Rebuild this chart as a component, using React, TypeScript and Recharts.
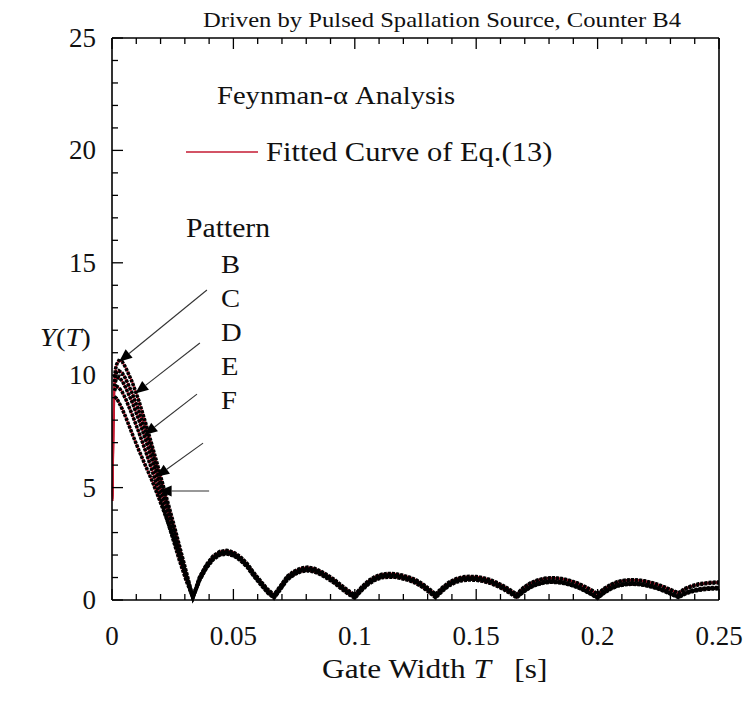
import React from 'react';
import { LineChart, Line, XAxis, YAxis, ReferenceLine } from 'recharts';

// Gate width T [s]
const GATE_WIDTH = [
  0.0003, 0.0006,
  0.001, 0.0015, 0.002, 0.0028, 0.0042, 0.0056, 0.0083, 0.0111, 0.0139, 0.0167, 0.0194, 0.0222, 0.025, 0.0278, 0.0306, 0.0333,
  0.0361, 0.0389, 0.0417, 0.0444, 0.0472, 0.05, 0.0528, 0.0556, 0.0583, 0.0611, 0.0639, 0.0667,
  0.0694, 0.0722, 0.075, 0.0778, 0.0806, 0.0833, 0.0861, 0.0889, 0.0917, 0.0944, 0.0972, 0.1,
  0.1028, 0.1056, 0.1083, 0.1111, 0.1139, 0.1167, 0.1194, 0.1222, 0.125, 0.1278, 0.1306, 0.1333,
  0.1361, 0.1389, 0.1417, 0.1444, 0.1472, 0.15, 0.1528, 0.1556, 0.1583, 0.1611, 0.1639, 0.1667,
  0.1694, 0.1722, 0.175, 0.1778, 0.1806, 0.1833, 0.1861, 0.1889, 0.1917, 0.1944, 0.1972, 0.2,
  0.2028, 0.2056, 0.2083, 0.2111, 0.2139, 0.2167, 0.2194, 0.2222, 0.225, 0.2278, 0.2306, 0.2333,
  0.2361, 0.2389, 0.2417, 0.2444, 0.2472, 0.25,
];

// Measured Y(T) per pattern
const PATTERN_B = [null, null,
  9.9, 10.3, 10.5, 10.65, 10.6, 10.35, 9.7, 8.85, 7.85, 6.8, 5.75, 4.65, 3.55, 2.4, 1.25, 0.12,
  1.03, 1.58, 1.96, 2.16, 2.21, 2.13, 1.93, 1.63, 1.23, 0.86, 0.5, 0.23,
  0.63, 1.06, 1.28, 1.42, 1.46, 1.41, 1.28, 1.1, 0.9, 0.66, 0.43, 0.23,
  0.58, 0.86, 1.04, 1.15, 1.18, 1.17, 1.11, 1.03, 0.91, 0.73, 0.5, 0.26,
  0.56, 0.8, 0.95, 1.03, 1.05, 1.04, 0.99, 0.91, 0.79, 0.64, 0.46, 0.26,
  0.55, 0.75, 0.88, 0.96, 0.99, 0.98, 0.94, 0.86, 0.76, 0.62, 0.46, 0.28,
  0.52, 0.7, 0.82, 0.88, 0.9, 0.89, 0.85, 0.78, 0.69, 0.57, 0.44, 0.32,
  0.52, 0.64, 0.72, 0.76, 0.79, 0.8];
const PATTERN_C = [null, null,
  9.7, 10.0, 10.15, 10.2, 10.1, 9.85, 9.2, 8.4, 7.5, 6.5, 5.45, 4.4, 3.3, 2.2, 1.1, 0.12,
  0.99, 1.54, 1.92, 2.12, 2.17, 2.09, 1.89, 1.59, 1.19, 0.82, 0.46, 0.19,
  0.59, 1.02, 1.24, 1.38, 1.42, 1.37, 1.24, 1.06, 0.86, 0.62, 0.39, 0.19,
  0.54, 0.82, 1.0, 1.11, 1.14, 1.13, 1.07, 0.99, 0.87, 0.69, 0.46, 0.22,
  0.52, 0.76, 0.91, 0.99, 1.01, 1.0, 0.95, 0.87, 0.75, 0.6, 0.42, 0.22,
  0.52, 0.72, 0.85, 0.93, 0.96, 0.95, 0.91, 0.83, 0.73, 0.59, 0.43, 0.25,
  0.49, 0.67, 0.79, 0.85, 0.87, 0.86, 0.82, 0.75, 0.66, 0.54, 0.41, 0.29,
  0.48, 0.6, 0.68, 0.72, 0.75, 0.76];
const PATTERN_D = [null, null,
  9.5, 9.75, 9.85, 9.9, 9.75, 9.45, 8.8, 8.0, 7.1, 6.15, 5.15, 4.1, 3.05, 2.0, 1.0, 0.12,
  0.95, 1.5, 1.88, 2.08, 2.13, 2.05, 1.85, 1.55, 1.15, 0.78, 0.42, 0.15,
  0.55, 0.98, 1.2, 1.34, 1.38, 1.33, 1.2, 1.02, 0.82, 0.58, 0.35, 0.15,
  0.5, 0.78, 0.96, 1.07, 1.1, 1.09, 1.03, 0.95, 0.83, 0.65, 0.42, 0.18,
  0.48, 0.72, 0.87, 0.95, 0.97, 0.96, 0.91, 0.83, 0.71, 0.56, 0.38, 0.16,
  0.4, 0.6, 0.73, 0.81, 0.84, 0.83, 0.79, 0.71, 0.61, 0.47, 0.31, 0.13,
  0.37, 0.55, 0.67, 0.73, 0.75, 0.74, 0.7, 0.63, 0.54, 0.42, 0.29, 0.15,
  0.33, 0.43, 0.49, 0.53, 0.55, 0.56];
const PATTERN_E = [null, null,
  9.3, 9.45, 9.5, 9.45, 9.25, 8.95, 8.25, 7.45, 6.6, 5.7, 4.75, 3.75, 2.75, 1.75, 0.85, 0.11,
  0.91, 1.46, 1.84, 2.04, 2.09, 2.01, 1.81, 1.51, 1.11, 0.74, 0.38, 0.11,
  0.51, 0.94, 1.16, 1.3, 1.34, 1.29, 1.16, 0.98, 0.78, 0.54, 0.31, 0.11,
  0.46, 0.74, 0.92, 1.03, 1.06, 1.05, 0.99, 0.91, 0.79, 0.61, 0.38, 0.14,
  0.44, 0.68, 0.83, 0.91, 0.93, 0.92, 0.87, 0.79, 0.67, 0.52, 0.34, 0.14,
  0.37, 0.57, 0.7, 0.78, 0.81, 0.8, 0.76, 0.68, 0.58, 0.44, 0.28, 0.1,
  0.34, 0.52, 0.64, 0.7, 0.72, 0.71, 0.67, 0.6, 0.51, 0.39, 0.26, 0.13,
  0.3, 0.4, 0.46, 0.5, 0.52, 0.53];
const PATTERN_F = [null, null,
  8.95, 9.0, 8.95, 8.8, 8.5, 8.15, 7.4, 6.65, 5.95, 5.25, 4.5, 3.7, 2.85, 1.97, 1.05, 0.1,
  0.87, 1.42, 1.8, 2.0, 2.05, 1.97, 1.77, 1.47, 1.07, 0.7, 0.34, 0.08,
  0.47, 0.9, 1.12, 1.26, 1.3, 1.25, 1.12, 0.94, 0.74, 0.5, 0.27, 0.08,
  0.42, 0.7, 0.88, 0.99, 1.02, 1.01, 0.95, 0.87, 0.75, 0.57, 0.34, 0.1,
  0.4, 0.64, 0.79, 0.87, 0.89, 0.88, 0.83, 0.75, 0.63, 0.48, 0.3, 0.1,
  0.35, 0.55, 0.68, 0.76, 0.79, 0.78, 0.74, 0.66, 0.56, 0.42, 0.26, 0.08,
  0.32, 0.5, 0.62, 0.68, 0.7, 0.69, 0.65, 0.58, 0.49, 0.37, 0.24, 0.11,
  0.27, 0.37, 0.43, 0.47, 0.49, 0.5];

// Fitted curve (Eq.13): its start below the first measured gate width
const FIT_HEAD_B = [4.8, 8.0];
const FIT_HEAD_C = [4.7, 7.9];
const FIT_HEAD_D = [4.6, 7.8];
const FIT_HEAD_E = [4.5, 7.7];
const FIT_HEAD_F = [4.4, 7.6];

const X_TICKS = [0, 0.01, 0.02, 0.03, 0.04, 0.05, 0.06, 0.07, 0.08, 0.09, 0.1, 0.11, 0.12, 0.13, 0.14, 0.15,
  0.16, 0.17, 0.18, 0.19, 0.2, 0.21, 0.22, 0.23, 0.24, 0.25];
const X_MAJOR = [0, 0.05, 0.1, 0.15, 0.2, 0.25];
const X_MAJOR_LABELS = ['0', '0.05', '0.1', '0.15', '0.2', '0.25'];
const Y_TICKS = [0, 1, 2, 3, 4, 5, 6, 7, 8, 9, 10, 11, 12, 13, 14, 15, 16, 17, 18, 19, 20, 21, 22, 23, 24, 25];
const Y_MAJOR = [0, 5, 10, 15, 20, 25];
const Y_MAJOR_LABELS = ['0', '5', '10', '15', '20', '25'];

const PATTERN_NAMES = ['B', 'C', 'D', 'E', 'F'];

// Annotation arrows (data coordinates): from the pattern labels to the curves
const ARROW_FROM_T = [0.0391, 0.0362, 0.035, 0.0375, 0.04];
const ARROW_FROM_Y = [13.79, 11.43, 9.16, 6.98, 4.85];
const ARROW_TO_T = [0.0029, 0.0096, 0.0133, 0.0182, 0.0192];
const ARROW_TO_Y = [10.6, 9.19, 7.34, 5.48, 4.85];

const PATTERNS = [PATTERN_B, PATTERN_C, PATTERN_D, PATTERN_E, PATTERN_F];
const FIT_HEADS = [FIT_HEAD_B, FIT_HEAD_C, FIT_HEAD_D, FIT_HEAD_E, FIT_HEAD_F];

const rows = GATE_WIDTH.map((t, i) => {
  const row: Record<string, number | null> = { t };
  PATTERN_NAMES.forEach((name, k) => {
    row[name] = PATTERNS[k][i];
    row['fit' + name] = i < FIT_HEADS[k].length ? FIT_HEADS[k][i] : PATTERNS[k][i];
  });
  return row;
});

const FONT = '"Liberation Serif", "Times New Roman", serif';
const W = 746;
const H = 715;
const RED = '#c41a32';

const findIdx = (arr: number[], v: number) => arr.findIndex((a) => Math.abs(a - v) < 1e-9);

const BottomTick = (props: any) => {
  const { x, y, payload } = props;
  const idx = findIdx(X_MAJOR, payload.value);
  const len = idx >= 0 ? 11 : 6;
  return (
    <g>
      <line x1={x} y1={y} x2={x} y2={y - len} stroke="#000" strokeWidth={1.3} />
      {idx >= 0 && (
        <text x={x} y={y + 45} textAnchor="middle" fontFamily={FONT} fontSize={27} fill="#111">
          {X_MAJOR_LABELS[idx]}
        </text>
      )}
    </g>
  );
};
const TopTick = (props: any) => {
  const { x, y, payload } = props;
  const len = findIdx(X_MAJOR, payload.value) >= 0 ? 11 : 6;
  return <line x1={x} y1={y} x2={x} y2={y + len} stroke="#000" strokeWidth={1.3} />;
};
const LeftTick = (props: any) => {
  const { x, y, payload } = props;
  const idx = findIdx(Y_MAJOR, payload.value);
  const len = idx >= 0 ? 11 : 6;
  return (
    <g>
      <line x1={x} y1={y} x2={x + len} y2={y} stroke="#000" strokeWidth={1.3} />
      {idx >= 0 && (
        <text x={x - 16} y={y + 9} textAnchor="end" fontFamily={FONT} fontSize={27} fill="#111">
          {Y_MAJOR_LABELS[idx]}
        </text>
      )}
    </g>
  );
};
const RightTick = (props: any) => {
  const { x, y, payload } = props;
  const len = findIdx(Y_MAJOR, payload.value) >= 0 ? 11 : 6;
  return <line x1={x} y1={y} x2={x - len} y2={y} stroke="#000" strokeWidth={1.3} />;
};

const ArrowShape = (p: any) => {
  const { x1, y1, x2, y2 } = p;
  const dx = x2 - x1;
  const dy = y2 - y1;
  const len = Math.hypot(dx, dy) || 1;
  const ux = dx / len;
  const uy = dy / len;
  const L = 13;
  const HW = 5.5;
  const bx = x2 - ux * L;
  const by = y2 - uy * L;
  const pts = `${x2},${y2} ${bx - uy * HW},${by + ux * HW} ${bx + uy * HW},${by - ux * HW}`;
  return (
    <g>
      <line x1={x1} y1={y1} x2={bx} y2={by} stroke="#333" strokeWidth={1.1} />
      <polygon points={pts} fill="#000" />
    </g>
  );
};

const TextS = ({ x, y, size, sx = 1.1, children }: any) => (
  <text transform={`translate(${x},${y}) scale(${sx},1)`} fontFamily={FONT} fontSize={size} fill="#111">
    {children}
  </text>
);

export default function App() {
  return (
    <div style={{ position: 'relative', width: W, height: H, background: '#fff' }}>
      <style>{'body{margin:0;overflow:hidden}'}</style>
      <LineChart width={W} height={H} data={rows} margin={{ top: 37, right: 26, bottom: 85, left: 52 }}>
        <XAxis
          dataKey="t"
          type="number"
          domain={[0, 0.25]}
          ticks={X_TICKS}
          interval={0}
          tickSize={0}
          tickMargin={0}
          tick={BottomTick}
          height={30}
          axisLine={{ stroke: '#000', strokeWidth: 1.6 }}
          tickLine={false}
        />
        <XAxis
          xAxisId="top"
          orientation="top"
          dataKey="t"
          type="number"
          domain={[0, 0.25]}
          ticks={X_TICKS}
          interval={0}
          tickSize={0}
          tickMargin={0}
          tick={TopTick}
          height={1}
          axisLine={{ stroke: '#000', strokeWidth: 1.6 }}
          tickLine={false}
        />
        <YAxis
          type="number"
          domain={[0, 25]}
          ticks={Y_TICKS}
          interval={0}
          tickSize={0}
          tickMargin={0}
          tick={LeftTick}
          width={60}
          axisLine={{ stroke: '#000', strokeWidth: 1.6 }}
          tickLine={false}
        />
        <YAxis
          yAxisId="right"
          orientation="right"
          type="number"
          domain={[0, 25]}
          ticks={Y_TICKS}
          interval={0}
          tickSize={0}
          tickMargin={0}
          tick={RightTick}
          width={1}
          axisLine={{ stroke: '#000', strokeWidth: 1.6 }}
          tickLine={false}
        />
        {PATTERN_NAMES.map((name) => (
          <Line
            key={'fit' + name}
            dataKey={'fit' + name}
            type="linear"
            stroke={RED}
            strokeWidth={1.8}
            dot={false}
            isAnimationActive={false}
          />
        ))}
        {PATTERN_NAMES.map((name) => (
          <Line
            key={name}
            dataKey={name}
            type="linear"
            stroke="#000"
            strokeWidth={3.6}
            strokeDasharray="3 1.1"
            dot={false}
            isAnimationActive={false}
          />
        ))}
        {ARROW_FROM_T.map((t, i) => (
          <ReferenceLine
            key={'arrow' + i}
            segment={[
              { x: t, y: ARROW_FROM_Y[i] },
              { x: ARROW_TO_T[i], y: ARROW_TO_Y[i] },
            ]}
            shape={ArrowShape}
            ifOverflow="visible"
          />
        ))}
      </LineChart>
      <svg
        width={W}
        height={H}
        style={{ position: 'absolute', left: 0, top: 0, pointerEvents: 'none' }}
      >
        <TextS x={203} y={27} size={22} sx={1.12}>Driven by Pulsed Spallation Source, Counter B4</TextS>
        <TextS x={217} y={104} size={26}>Feynman-α Analysis</TextS>
        <line x1={186} y1={152} x2={258} y2={152} stroke={RED} strokeWidth={1.6} />
        <TextS x={266} y={161} size={27} sx={1.13}>Fitted Curve of Eq.(13)</TextS>
        <TextS x={186} y={237} size={27}>Pattern</TextS>
        {PATTERN_NAMES.map((name, i) => (
          <TextS key={name} x={221} y={273 + i * 34} size={26}>{name}</TextS>
        ))}
        <TextS x={40} y={346} size={26}>
          <tspan fontStyle="italic">Y</tspan>(<tspan fontStyle="italic">T</tspan>)
        </TextS>
        <TextS x={322} y={678} size={28} sx={1.12}>
          Gate Width <tspan fontStyle="italic">T</tspan>{'\u00a0\u00a0\u00a0'}[s]
        </TextS>
      </svg>
    </div>
  );
}
